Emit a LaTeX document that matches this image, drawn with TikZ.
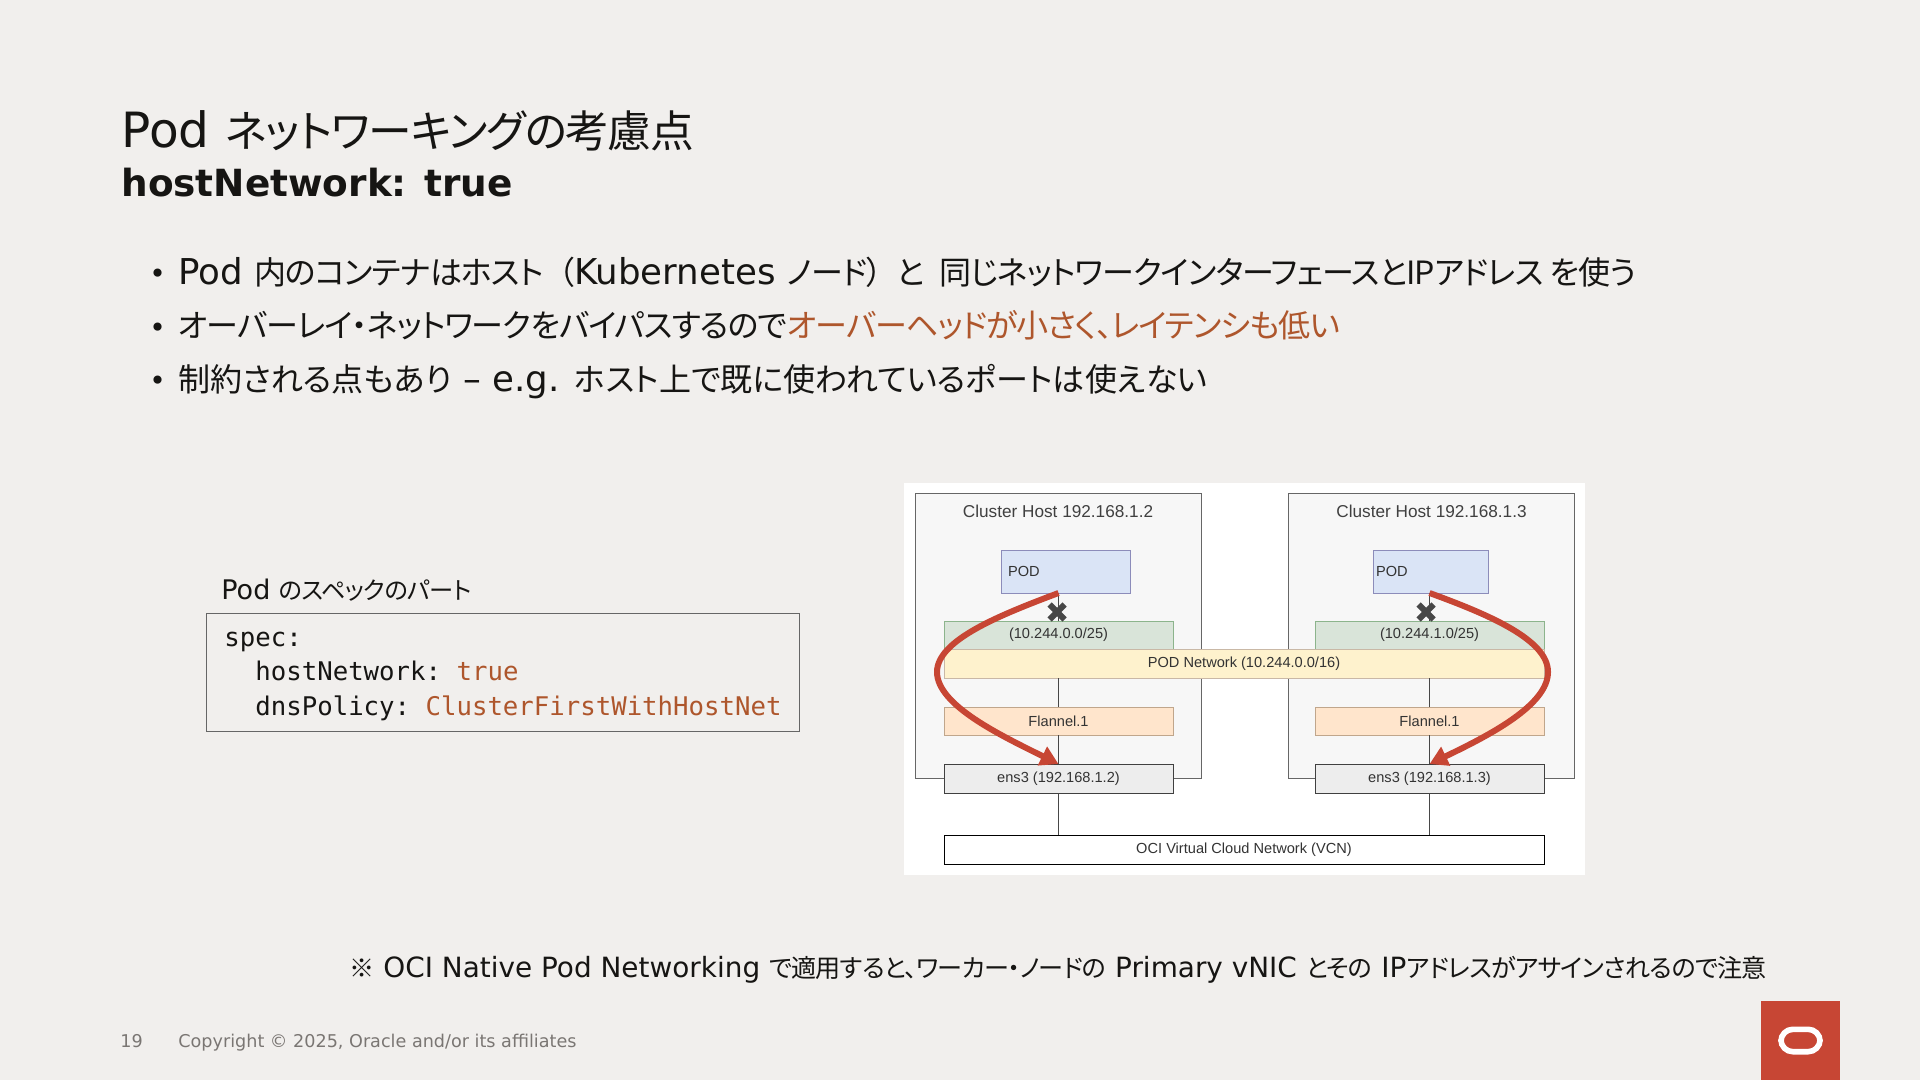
\documentclass[tikz,border=0pt]{standalone}
\usepackage{fontspec}
\usepackage{xcolor}
\usepackage{tikz}
\usetikzlibrary{positioning,arrows.meta,shapes.misc}
\setmainfont{DejaVu Sans}
\setmonofont{DejaVu Sans Mono}
\newfontfamily\jafont[RawFeature=+palt,Scale=0.9,LetterSpace=-3]{Noto Sans CJK JP}
\newfontfamily\jwidefont[RawFeature=+palt,Scale=0.9]{Noto Sans CJK JP}
\newfontfamily\diagfont{Liberation Sans}
\newcommand{\ja}[1]{{\jafont #1}}
\newcommand{\jw}[1]{{\jwidefont #1}}
\newcommand{\dotmark}{\makebox[14.5pt][l]{\fontsize{14}{14}\selectfont\raisebox{.5pt}{•}}}
\definecolor{slidebg}{HTML}{F1EFED}
\definecolor{oraclered}{HTML}{C74634}
\definecolor{accent}{HTML}{AE562C}
\definecolor{inktext}{HTML}{161513}
\definecolor{footgray}{HTML}{7A7673}
\definecolor{podfill}{HTML}{DAE4F6}
\tikzset{
  headline/.style={anchor=base west,inner sep=0pt,text=inktext},
  bodyline/.style={anchor=base west,inner sep=0pt,text=inktext,font=\fontsize{17.8}{21}\selectfont},
  footline/.style={anchor=base west,inner sep=0pt,text=footgray,font=\fontsize{8.8}{10}\selectfont},
  codebox/.style={draw=black!60,line width=.5pt,anchor=north west,align=left,inner sep=0pt,minimum width=296.5pt,minimum height=59pt,text=inktext},
  hostbox/.style={draw=black!60,fill=black!3,line width=.5pt,minimum width=143pt,minimum height=142.5pt,outer sep=0pt},
  hosttext/.style={inner sep=0pt,font=\diagfont\fontsize{8.6}{10}\selectfont,text=black!75},
  netbox/.style={line width=.5pt,outer sep=0pt,inner sep=0pt,font=\diagfont\fontsize{7.3}{9}\selectfont,text=black!80},
  podbox/.style={netbox,draw=blue!40!black!45,fill=podfill,minimum height=21.5pt,align=left,inner ysep=0pt},
  subnet/.style={netbox,draw=green!35!black!45,fill=green!30!black!15!white,minimum width=114.5pt,minimum height=14pt},
  podnet/.style={netbox,draw=orange!40!black!35,fill=yellow!50!orange!18!white,minimum width=300pt,minimum height=14.5pt},
  flannel/.style={netbox,draw=orange!45!black!45,fill=orange!20!white,minimum width=114.5pt,minimum height=14pt},
  ensbox/.style={netbox,draw=black!75,fill=black!7,minimum width=114.5pt,minimum height=14.5pt},
  vcnbox/.style={netbox,draw=black,fill=white,minimum width=300pt,minimum height=14.5pt},
  link/.style={draw=black!72,line width=.8pt},
  blocked/.style={cross out,draw=black!72,line width=3pt,minimum size=7.5pt,inner sep=0pt,outer sep=0pt},
  route/.style={draw=oraclered,line width=3pt,-{Triangle[length=9pt,width=10pt]}},
}

\begin{document}
\begin{tikzpicture}[x=.5pt,y=-.5pt]
  \useasboundingbox[fill=slidebg] (0,0) rectangle (1920,1080);

  % heading and bullets
  \node[headline,font=\fontsize{24.3}{28}\selectfont] (title) at (121,148) {Pod \ja{ネットワーキングの考慮点}};
  \node[headline,font=\fontsize{18.7}{22}\selectfont\bfseries] (subtitle) at (121,197) {hostNetwork: true};
  \node[bodyline] (line1) at (149,285) {\dotmark Pod \ja{内のコンテナはホスト\hspace{.45em}（}Kubernetes \ja{ノード）\hspace{.45em}と\hspace{.25em} 同じネットワークインターフェースとIPアドレス を使う}};
  \node[bodyline] (line2) at (149,338) {\dotmark\ja{オーバーレイ・ネットワークをバイパスするので\textcolor{accent}{オーバーヘッドが小さく、レイテンシも低い}}};
  \node[bodyline] (line3) at (149,391) {\dotmark\jw{制約される点もあり} – e.g. \jw{ホスト上で既に使われているポートは使えない}};

  % pod spec
  \node[bodyline,font=\fontsize{13.5}{16}\selectfont] (speclabel) at (221,599) {Pod \ja{のスペックのパート}};
  \node[codebox,font=\fontsize{12.85}{17.15}\ttfamily] (spec) at (206,613) {\rule{0pt}{11pt}spec:\\\ \ hostNetwork: \textcolor{accent}{true}\\\ \ dnsPolicy: \textcolor{accent}{ClusterFirstWithHostNet}};

  % embedded network figure
  \node[fill=white,inner sep=0pt,minimum width=340.5pt,minimum height=196pt] (figure) at (1244.5,679) {};
  \node[hostbox] (host1) at (1058,635.5) {};
  \node[hostbox] (host2) at (1431.5,635.5) {};
  \node[hosttext,below=6pt of host1.north] (hostname1) {Cluster Host 192.168.1.2};
  \node[hosttext,below=6pt of host2.north] (hostname2) {Cluster Host 192.168.1.3};

  \node[podbox,minimum width=64.5pt,text width=57.5pt,inner xsep=3.5pt] (pod1) at (1065.5,571.5) {POD};
  \node[podbox,minimum width=57.5pt,text width=55pt,inner xsep=1.25pt] (pod2) at (1431,571.5) {POD};
  \node[subnet] (cidr1) at (1058.5,635) {(10.244.0.0/25)};
  \node[subnet,right=71pt of cidr1] (cidr2) {(10.244.1.0/25)};
  \node[podnet] (podnw) at (1244,663.5) {POD Network (10.244.0.0/16)};
  \node[flannel,below=29pt of cidr1] (flan1) {Flannel.1};
  \node[flannel,below=29pt of cidr2] (flan2) {Flannel.1};
  \node[ensbox,below=14.5pt of flan1] (ens1) {ens3 (192.168.1.2)};
  \node[ensbox,below=14.5pt of flan2] (ens2) {ens3 (192.168.1.3)};
  \node[vcnbox] (vcn) at (1244,849.5) {OCI Virtual Cloud Network (VCN)};

  \draw[link] (pod1.south -| cidr1) -- (cidr1.north);
  \draw[link] (pod2.south -| cidr2) -- (cidr2.north);
  \draw[link] (podnw.south -| flan1) -- (flan1.north);
  \draw[link] (podnw.south -| flan2) -- (flan2.north);
  \draw[link] (flan1) -- (ens1);
  \draw[link] (flan2) -- (ens2);
  \draw[link] (ens1) -- (ens1 |- vcn.north);
  \draw[link] (ens2) -- (ens2 |- vcn.north);

  \node[blocked] (cross1) at (1057,612) {};
  \node[blocked] (cross2) at (1426,612) {};

  \draw[route] (pod1.south -| ens1) .. controls (1000,615) and (937,640) .. (937,672) .. controls (937,705) and (1000,735) .. (ens1.north);
  \draw[route] (pod2.south -| ens2) .. controls (1490,615) and (1548,640) .. (1548,672) .. controls (1548,705) and (1490,735) .. (ens2.north);

  % note and footer
  \node[bodyline,font=\fontsize{13.95}{17}\selectfont] (note) at (349,977) {\ja{※} OCI Native Pod Networking \ja{で適用すると、ワーカー・ノードの} Primary vNIC \ja{とその} IP\ja{アドレスがアサインされるので注意}};
  \node[footline] (pageno) at (120,1047) {19};
  \node[footline] (copyright) at (178,1047) {Copyright © 2025, Oracle and/or its affiliates};
  \node[fill=oraclered,inner sep=0pt,minimum width=39.5pt,minimum height=39.5pt] (logo) at (1800.5,1040.5) {};
  \node[draw=white,line width=2.8pt,rounded corners=6pt,inner sep=0pt,minimum width=19.6pt,minimum height=11.2pt] (logoring) at (logo) {};
\end{tikzpicture}
\end{document}
